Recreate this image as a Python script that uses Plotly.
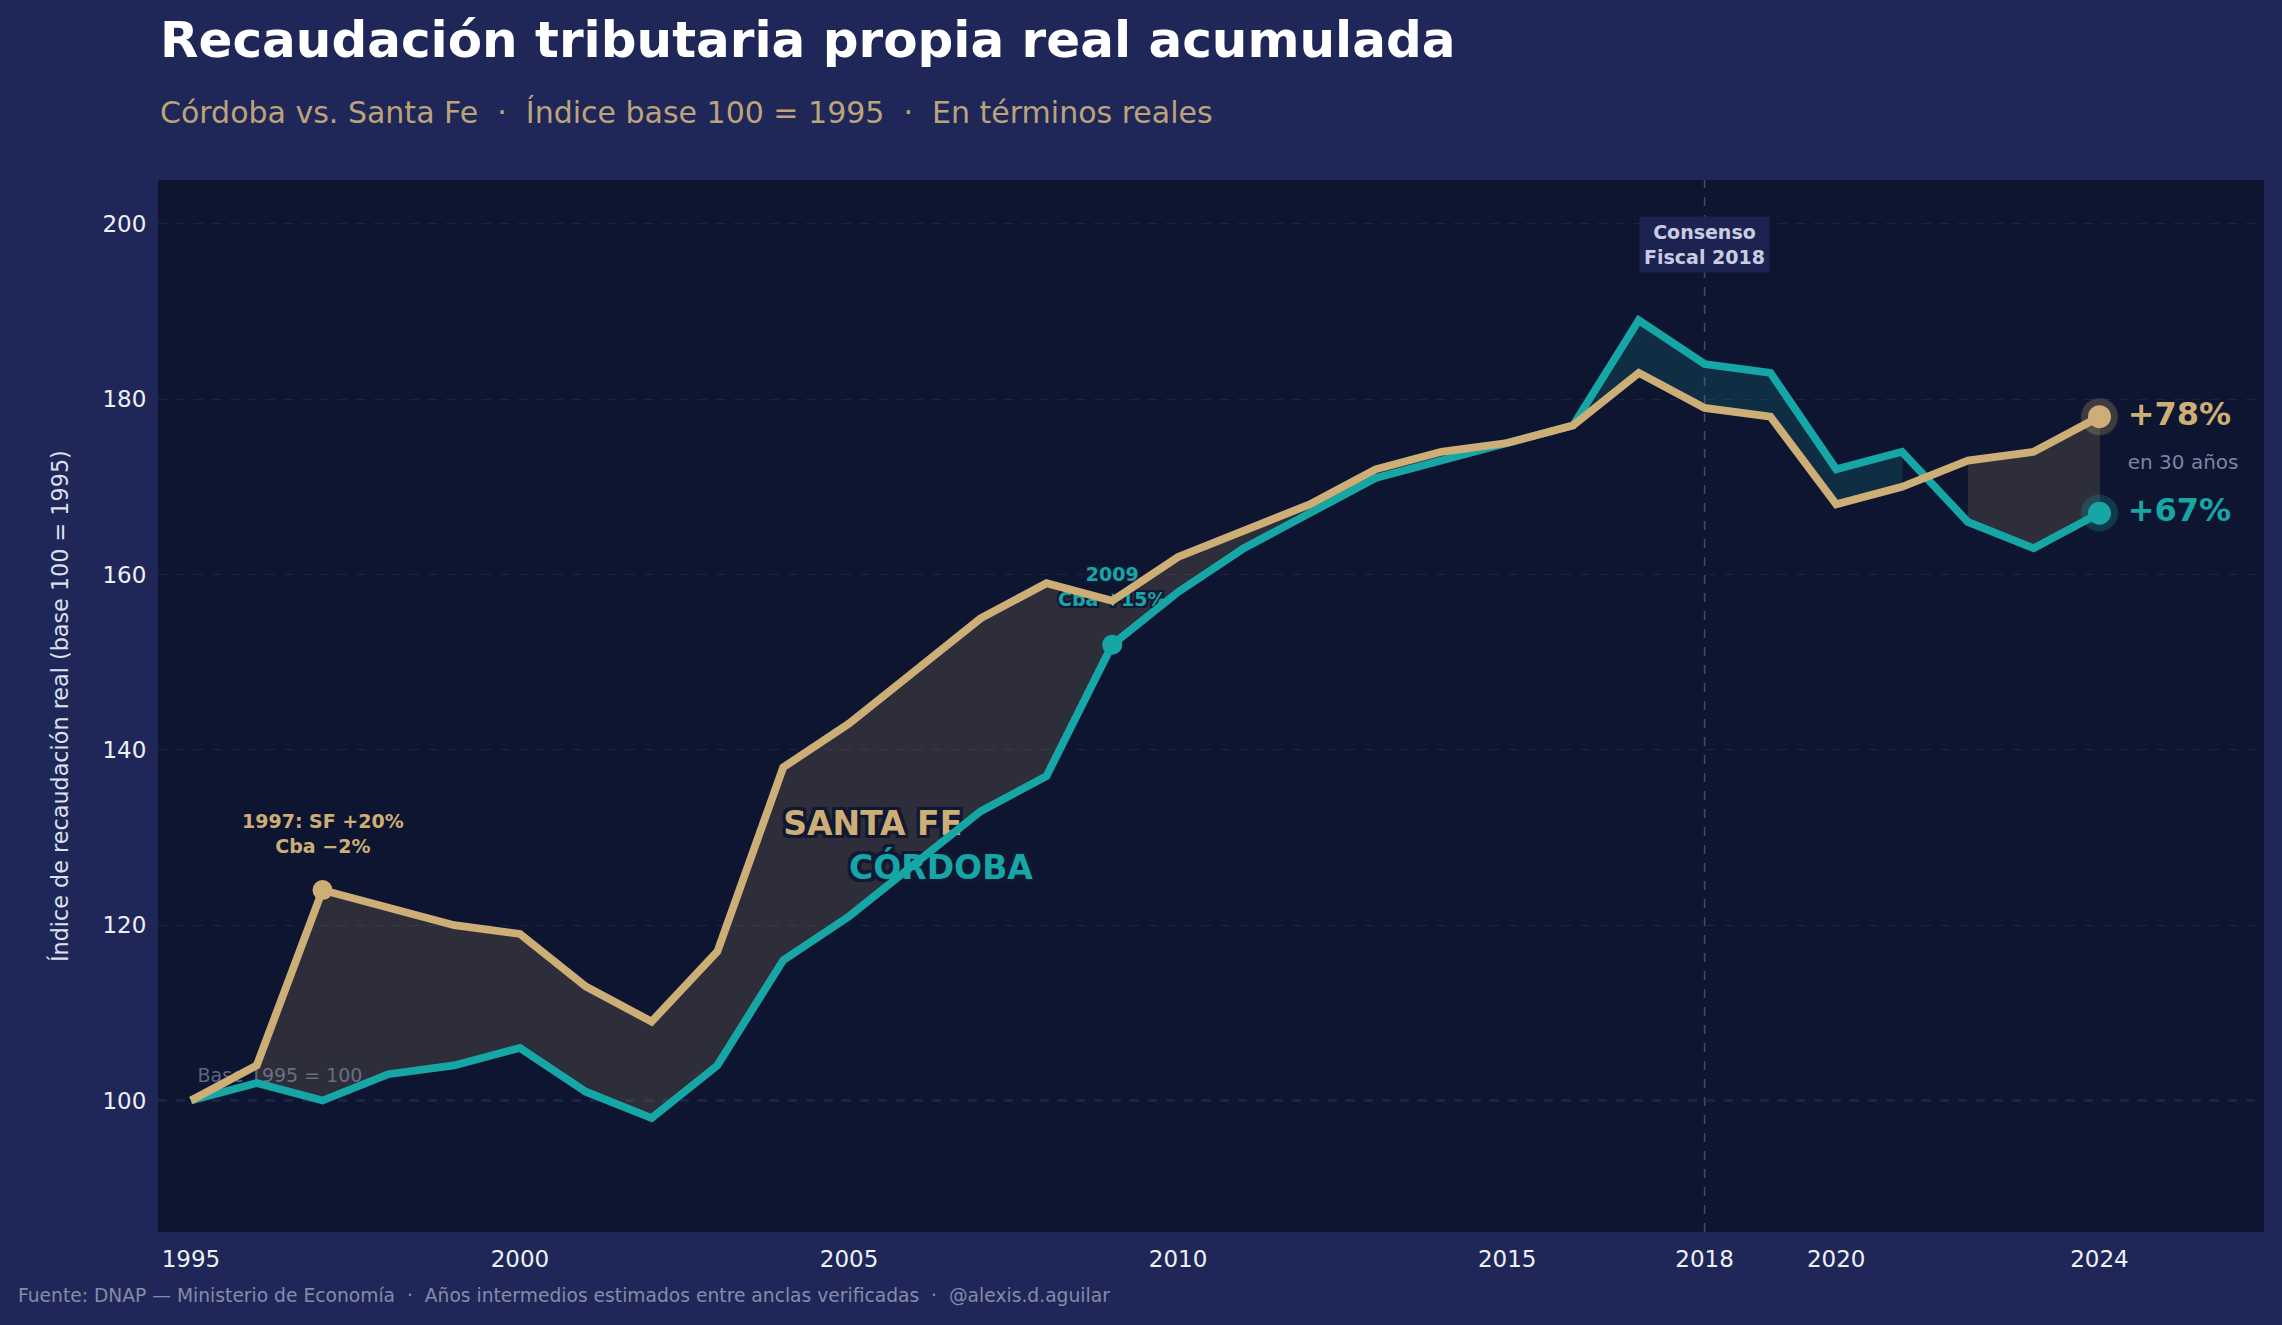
import plotly.graph_objects as go

# ---------------- data ----------------
years = list(range(1995, 2025))
santa_fe = [100, 104, 124, 122, 120, 119, 113, 109, 117, 138, 143, 149, 155, 159, 157,
            162, 165, 168, 172, 174, 175, 177, 183, 179, 178, 168, 170, 173, 174, 178]
cordoba = [100, 102, 100, 103, 104, 106, 101, 98, 104, 116, 121, 127, 133, 137, 152,
           158, 163, 167, 171, 173, 175, 177, 189, 184, 183, 172, 174, 166, 163, 167]
x_ticks = [1995, 2000, 2005, 2010, 2015, 2018, 2020, 2024]
y_ticks = [100, 120, 140, 160, 180, 200]

title = "Recaudación tributaria propia real acumulada"
subtitle = "Córdoba vs. Santa Fe  ·  Índice base 100 = 1995  ·  En términos reales"
footer = ("Fuente: DNAP — Ministerio de Economía  ·  Años intermedios estimados entre "
          "anclas verificadas  ·  @alexis.d.aguilar")
y_title = "Índice de recaudación real (base 100 = 1995)"

# ---------------- style ----------------
FONT = "DejaVu Sans"
PAPER = "#1f2758"
PLOT = "#0e1530"
GOLD = "#cdae76"
TEAL = "#16a6a6"
FILL_GOLD = "rgba(205,174,118,0.17)"
FILL_TEAL = "rgba(22,166,166,0.17)"
STROKE = ", ".join(f"{dx}px {dy}px 0 #101833" for dx in (-3, -2, 0, 2, 3)
                   for dy in (-3, -2, 0, 2, 3) if not (dx == 0 and dy == 0))
STROKE_S = ", ".join(f"{dx}px {dy}px 0 #101833" for dx in (-2, -1, 0, 1, 2)
                     for dy in (-2, -1, 0, 1, 2) if not (dx == 0 and dy == 0))

fig = go.Figure()


def runs(cond):
    out, cur = [], []
    for i, c in enumerate(cond):
        if c:
            cur.append(i)
        else:
            if len(cur) > 1:
                out.append(cur)
            cur = []
    if len(cur) > 1:
        out.append(cur)
    return out


# fill_between style areas
for run in runs([s > c for s, c in zip(santa_fe, cordoba)]):
    xs = [years[i] for i in run] + [years[i] for i in reversed(run)]
    ys = [santa_fe[i] for i in run] + [cordoba[i] for i in reversed(run)]
    fig.add_trace(go.Scatter(x=xs, y=ys, fill="toself", fillcolor=FILL_GOLD,
                             mode="lines", line=dict(width=0.8, color="rgba(205,174,118,0.12)"),
                             hoverinfo="skip", showlegend=False))
for run in runs([c >= s for s, c in zip(santa_fe, cordoba)]):
    xs = [years[i] for i in run] + [years[i] for i in reversed(run)]
    ys = [cordoba[i] for i in run] + [santa_fe[i] for i in reversed(run)]
    fig.add_trace(go.Scatter(x=xs, y=ys, fill="toself", fillcolor=FILL_TEAL,
                             mode="lines", line=dict(width=0.8, color="rgba(22,166,166,0.12)"),
                             hoverinfo="skip", showlegend=False))

# series labels (under the lines)
fig.add_trace(go.Scatter(x=[2004.0], y=[131.2], mode="text", text=["SANTA FE"],
                         textposition="middle right",
                         textfont=dict(family=FONT, size=33, color=GOLD, weight="bold", shadow=STROKE),
                         hoverinfo="skip", showlegend=False))
fig.add_trace(go.Scatter(x=[2005.0], y=[126.2], mode="text", text=["CÓRDOBA"],
                         textposition="middle right",
                         textfont=dict(family=FONT, size=33, color=TEAL, weight="bold", shadow=STROKE),
                         hoverinfo="skip", showlegend=False))
fig.add_trace(go.Scatter(x=[2009.0], y=[158.4], mode="text", text=["2009<br>Cba +15%"],
                         textposition="middle center",
                         textfont=dict(family=FONT, size=19, color=TEAL, weight="bold", shadow=STROKE_S),
                         hoverinfo="skip", showlegend=False))
fig.add_trace(go.Scatter(x=[1995.1], y=[102.7], mode="text", text=["Base 1995 = 100"],
                         textposition="middle right",
                         textfont=dict(family=FONT, size=19, color="rgba(150,155,185,0.6)"),
                         hoverinfo="skip", showlegend=False))

# lines
fig.add_trace(go.Scatter(x=years, y=cordoba, mode="lines", line=dict(color=TEAL, width=7.8),
                         name="Córdoba", showlegend=False))
fig.add_trace(go.Scatter(x=years, y=santa_fe, mode="lines", line=dict(color=GOLD, width=7.8),
                         name="Santa Fe", showlegend=False))

# highlighted points
i97 = years.index(1997)
i09 = years.index(2009)
fig.add_trace(go.Scatter(x=[years[i97]], y=[santa_fe[i97]], mode="markers",
                         marker=dict(color=GOLD, size=20), hoverinfo="skip", showlegend=False))
fig.add_trace(go.Scatter(x=[years[i09]], y=[cordoba[i09]], mode="markers",
                         marker=dict(color=TEAL, size=20), hoverinfo="skip", showlegend=False))

# end markers with halo
fig.add_trace(go.Scatter(x=[years[-1], years[-1]], y=[santa_fe[-1], cordoba[-1]], mode="markers",
                         marker=dict(color=[GOLD, TEAL], size=36, opacity=0.25,
                                     line=dict(width=2, color=["rgba(205,174,118,0.5)", "rgba(22,166,166,0.5)"])),
                         hoverinfo="skip", showlegend=False))
fig.add_trace(go.Scatter(x=[years[-1], years[-1]], y=[santa_fe[-1], cordoba[-1]], mode="markers",
                         marker=dict(color=[GOLD, TEAL], size=23), hoverinfo="skip", showlegend=False))

# end labels
pct_sf = round(santa_fe[-1] - santa_fe[0])
pct_cba = round(cordoba[-1] - cordoba[0])
fig.add_trace(go.Scatter(x=[2024.43, 2024.43, 2024.43],
                         y=[santa_fe[-1], (santa_fe[-1] + cordoba[-1]) / 2 + 0.1, cordoba[-1]],
                         mode="text",
                         text=[f"<b>+{pct_sf}%</b>", f"en {years[-1] - years[0] + 1} años", f"<b>+{pct_cba}%</b>"],
                         textposition="middle right",
                         textfont=dict(family=FONT, size=[32, 20, 32],
                                       color=[GOLD, "#7d83a6", TEAL]),
                         hoverinfo="skip", showlegend=False))

# reference lines
fig.add_shape(type="line", xref="paper", x0=0, x1=1, yref="y", y0=100, y1=100,
              line=dict(color="#4c5376", width=1.6, dash="dash"), layer="below")
fig.add_shape(type="line", xref="x", x0=2018, x1=2018, yref="paper", y0=0, y1=1,
              line=dict(color="#414868", width=1.6, dash="dash"), layer="below")

annotations = [
    dict(x=1997, y=130.5, xref="x", yref="y", text="<b>1997: SF +20%<br>Cba −2%</b>",
         showarrow=False, font=dict(family=FONT, size=19, color=GOLD), align="center"),
    dict(x=2018, y=197.6, xref="x", yref="y", text="<b>Consenso<br>Fiscal 2018</b>",
         showarrow=False, font=dict(family=FONT, size=19, color="#c9cde2"), align="center",
         bgcolor="#1c2350", borderpad=4),
    dict(x=0, y=1.133, xref="paper", yref="paper", xanchor="left", yanchor="middle",
         text=f"<b>{title}</b>", showarrow=False, font=dict(family=FONT, size=50, color="#ffffff")),
    dict(x=0, y=1.0645, xref="paper", yref="paper", xanchor="left", yanchor="middle",
         text=subtitle, showarrow=False, font=dict(family=FONT, size=30, color="#bda37a")),
    dict(x=-0.0672, y=-0.0605, xref="paper", yref="paper", xanchor="left", yanchor="middle",
         text=footer, showarrow=False, font=dict(family=FONT, size=18.7, color="#858ba9")),
    dict(x=-0.047, y=0.5, xref="paper", yref="paper", xanchor="center", yanchor="middle",
         text=y_title, textangle=-90, showarrow=False, font=dict(family=FONT, size=22.3, color="#dde0ec")),
]

fig.update_layout(
    width=2282, height=1325,
    margin=dict(l=158, r=18, t=180, b=93),
    paper_bgcolor=PAPER, plot_bgcolor=PLOT,
    font=dict(family=FONT, color="#e8e9f0"),
    showlegend=False,
    annotations=annotations,
    xaxis=dict(range=[1994.5, 2026.5], tickmode="array", tickvals=x_ticks,
               ticktext=[str(t) for t in x_ticks], showgrid=False, zeroline=False,
               showline=False, ticks="outside", ticklen=6, tickcolor="rgba(0,0,0,0)",
               tickfont=dict(family=FONT, size=23, color="#eef0f6")),
    yaxis=dict(range=[85, 205], tickmode="array", tickvals=y_ticks,
               showgrid=True, gridcolor="#1c2446", griddash="dash", gridwidth=1,
               zeroline=False, showline=False, ticks="outside", ticklen=6,
               tickcolor="rgba(0,0,0,0)",
               tickfont=dict(family=FONT, size=23, color="#eef0f6")),
)

fig.write_html("out.html")
